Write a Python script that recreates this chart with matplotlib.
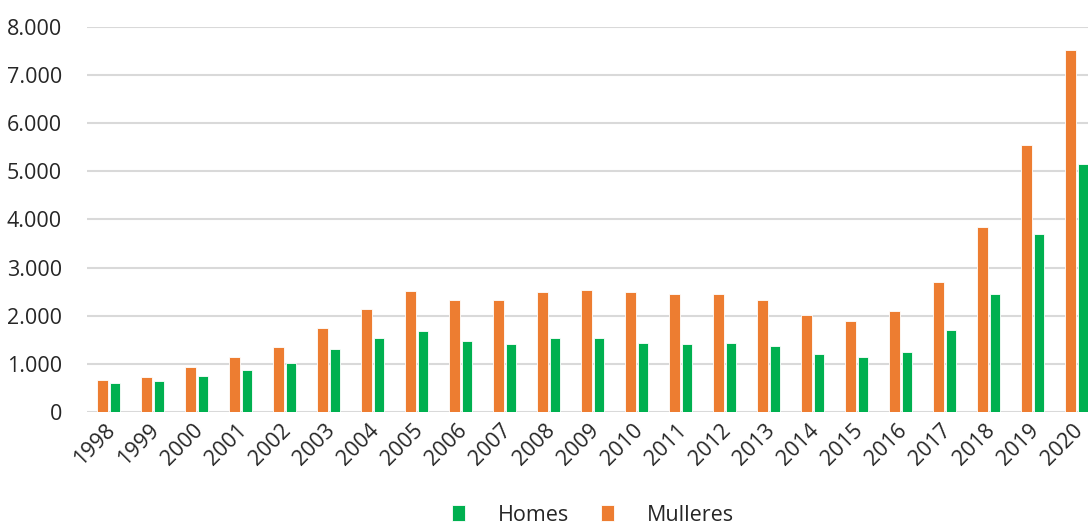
import matplotlib
matplotlib.use("Agg")
import matplotlib.pyplot as plt
import matplotlib.transforms as mtransforms
import numpy as np
from matplotlib.ticker import FuncFormatter

years = [str(y) for y in range(1998, 2021)]
mulleres = [670, 720, 935, 1140, 1360, 1750, 2150, 2510, 2330, 2330, 2490, 2540,
            2490, 2460, 2460, 2335, 2020, 1890, 2100, 2710, 3850, 5550, 7510]
homes = [610, 640, 750, 880, 1020, 1310, 1545, 1690, 1470, 1420, 1530, 1530,
         1445, 1420, 1445, 1380, 1200, 1140, 1250, 1700, 2445, 3690, 5150]

plt.rcParams['font.family'] = ['Open Sans', 'DejaVu Sans']
text_color = '#262626'
fs = 15.5

fig = plt.figure(figsize=(10.88, 5.27), dpi=100)
ax = fig.add_axes([0.080, 0.218, 0.930, 0.731])

x = np.arange(len(years))
w = 0.24
ax.bar(x - 0.148, mulleres, width=w, color='#ED7D31', edgecolor='white',
       linewidth=0.6, label='Mulleres', zorder=3)
ax.bar(x + 0.14, homes, width=w, color='#00B050', edgecolor='white',
       linewidth=0.6, label='Homes', zorder=3)

ax.set_xlim(-0.5, len(years) - 0.5)
ax.set_ylim(0, 8000)
ax.set_yticks(range(0, 8001, 1000))
ax.yaxis.set_major_formatter(FuncFormatter(lambda v, p: f"{int(v):,}".replace(",", ".")))
ax.grid(axis='y', color='#D9D9D9', linewidth=1.5, zorder=0)
for s in ax.spines.values():
    s.set_visible(False)
ax.tick_params(axis='y', length=0, pad=18, labelsize=fs, labelcolor=text_color)
ax.tick_params(axis='x', length=0, pad=11, labelsize=fs, labelcolor=text_color)
ax.set_xticks(x)
ax.set_xticklabels(years, rotation=45, ha='right', va='center', rotation_mode='anchor')
offset = mtransforms.ScaledTranslation(3 / 100, 0, fig.dpi_scale_trans)
for lbl in ax.get_xticklabels():
    lbl.set_transform(lbl.get_transform() + offset)

handles, labels = ax.get_legend_handles_labels()
order = [1, 0]
leg = ax.legend([handles[i] for i in order], [labels[i] for i in order],
                loc='center', bbox_to_anchor=(0.5, -0.268), ncol=2, frameon=False,
                fontsize=fs, handlelength=0.6, handleheight=0.75, handletextpad=1.55,
                columnspacing=1.45)
for t in leg.get_texts():
    t.set_color(text_color)

fig.savefig('out.png', dpi=100)
